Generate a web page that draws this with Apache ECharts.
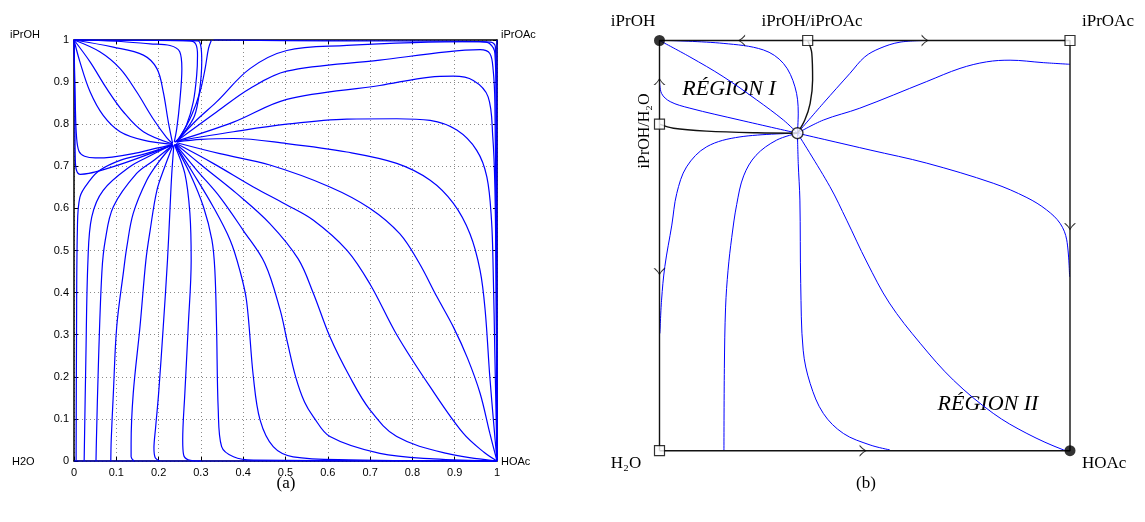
<!DOCTYPE html>
<html><head><meta charset="utf-8">
<script src="https://cdn.jsdelivr.net/npm/echarts@6/dist/echarts.min.js"></script>
<style>html,body{margin:0;padding:0;background:#fff}#c{width:1145px;height:522px}</style>
</head><body><div id="c"></div>
<script>
// ---------- Panel (a): residue curves (x = HOAc, y = iPrOH) ----------
const axisMin = 0, axisMax = 1, axisStep = 0.1;
const cornerLabelsA = ['iPrOH', 'iPrOAc', 'H2O', 'HOAc'];

// Region I curves: from iPrOH corner to the saddle
const L1 = [[0,1],[0.002,0.85],[0.003,0.72],[0.006,0.69],[0.015,0.681],[0.035,0.683],[0.07,0.692],[0.12,0.708],[0.18,0.73],[0.233,0.751]];
const L2 = [[0,1],[0.003,0.85],[0.006,0.77],[0.012,0.735],[0.025,0.724],[0.05,0.72],[0.09,0.722],[0.14,0.73],[0.19,0.742],[0.233,0.751]];
const L3 = [[0,1],[0.014,0.948],[0.038,0.877],[0.069,0.821],[0.109,0.782],[0.164,0.762],[0.233,0.752]];
const L4 = [[0,1],[0.038,0.948],[0.077,0.885],[0.117,0.829],[0.164,0.782],[0.233,0.753]];
const L5 = [[0,1],[0.061,0.972],[0.109,0.932],[0.148,0.877],[0.187,0.813],[0.219,0.768],[0.233,0.754]];
const L6 = [[0,1],[0.093,0.983],[0.164,0.964],[0.196,0.932],[0.211,0.877],[0.223,0.805],[0.233,0.755]];
const L7 = [[0,1],[0.1,0.997],[0.18,0.991],[0.227,0.987],[0.25,0.972],[0.255,0.932],[0.25,0.853],[0.243,0.79],[0.237,0.758]];
const L8 = [[0,1],[0.15,0.999],[0.274,0.998],[0.288,0.99],[0.292,0.964],[0.29,0.916],[0.282,0.853],[0.266,0.798],[0.247,0.765],[0.238,0.757]];
const L9 = [[0,1],[0.2,0.999],[0.293,0.998],[0.3,0.985],[0.302,0.95],[0.297,0.88],[0.285,0.82],[0.26,0.78],[0.24,0.758]];
const D1 = [[0.325,1],[0.318,0.98],[0.31,0.932],[0.298,0.877],[0.278,0.821],[0.25,0.768],[0.241,0.758]];

// Upper-right curves: from the saddle to HOAc along the right edge
const R1 = [[0.33,1],[0.6,0.998],[0.9,0.997],[0.985,0.995],[0.996,0.985],[0.998,0.9],[0.999,0.3],[1,0]];
const R2 = [[0.243,0.76],[0.29,0.81],[0.337,0.853],[0.416,0.932],[0.503,0.975],[0.645,0.987],[0.802,0.994],[0.96,0.996],[0.983,0.991],[0.995,0.968],[0.998,0.85],[0.999,0.3],[1,0]];
const R3 = [[0.243,0.76],[0.337,0.829],[0.416,0.885],[0.503,0.926],[0.723,0.952],[0.881,0.972],[0.96,0.977],[0.983,0.968],[0.991,0.928],[0.995,0.85],[0.998,0.5],[1,0]];
const R4 = [[0.243,0.76],[0.377,0.805],[0.503,0.859],[0.723,0.892],[0.842,0.912],[0.897,0.914],[0.944,0.904],[0.979,0.865],[0.99,0.77],[0.995,0.651],[0.998,0.4],[1,0]];
const R5 = [[0.243,0.76],[0.377,0.782],[0.503,0.8],[0.645,0.812],[0.763,0.813],[0.842,0.809],[0.905,0.786],[0.952,0.738],[0.976,0.675],[0.987,0.572],[0.991,0.453],[0.995,0.25],[1,0]];
const R6 = [[0.243,0.758],[0.3,0.764],[0.377,0.766],[0.503,0.754],[0.645,0.734],[0.763,0.707],[0.842,0.667],[0.897,0.612],[0.936,0.54],[0.96,0.453],[0.972,0.358],[0.983,0.2],[0.993,0.08],[1,0]];
const R7 = [[0.243,0.756],[0.345,0.73],[0.463,0.703],[0.605,0.651],[0.7,0.6],[0.77,0.54],[0.815,0.472],[0.858,0.39],[0.897,0.318],[0.93,0.245],[0.96,0.161],[0.983,0.066],[1,0]];
const R8 = [[0.242,0.754],[0.329,0.707],[0.424,0.651],[0.5,0.61],[0.566,0.572],[0.645,0.501],[0.7,0.42],[0.763,0.3],[0.842,0.176],[0.92,0.066],[0.97,0.02],[1,0]];
const R9 = [[0.241,0.753],[0.306,0.699],[0.385,0.635],[0.463,0.564],[0.53,0.48],[0.566,0.398],[0.605,0.295],[0.652,0.2],[0.7,0.121],[0.763,0.058],[0.881,0.018],[1,0]];

// Lower curves: from the saddle down to the H2O–HOAc edge
const Cj = [[0.24,0.752],[0.29,0.691],[0.345,0.627],[0.4,0.548],[0.451,0.47],[0.487,0.36],[0.505,0.28],[0.524,0.2],[0.545,0.14],[0.566,0.105],[0.605,0.058],[0.723,0.018],[0.85,0.005],[1,0]];
const Ci = [[0.239,0.752],[0.282,0.683],[0.329,0.604],[0.369,0.525],[0.392,0.453],[0.408,0.38],[0.424,0.2],[0.44,0.097],[0.471,0.034],[0.518,0.01],[0.65,0.003],[1,0]];
const Ch = [[0.238,0.752],[0.274,0.683],[0.306,0.604],[0.326,0.525],[0.333,0.453],[0.337,0.319],[0.341,0.121],[0.349,0.034],[0.377,0.01],[0.424,0.002],[1,0]];
const Cg = [[0.237,0.752],[0.262,0.683],[0.274,0.588],[0.277,0.477],[0.27,0.319],[0.262,0.16],[0.257,0.05],[0.259,0.015],[0.27,0.003],[0.3,0]];
const Cf = [[0.236,0.75],[0.231,0.68],[0.227,0.6],[0.221,0.477],[0.211,0.319],[0.2,0.16],[0.193,0.08],[0.189,0.03],[0.192,0.008],[0.203,0]];
const Ce = [[0.234,0.75],[0.215,0.7],[0.196,0.643],[0.18,0.548],[0.17,0.477],[0.156,0.319],[0.14,0.16],[0.135,0.04],[0.135,0.01],[0.142,0]];
const Cd = [[0.233,0.75],[0.2,0.71],[0.172,0.667],[0.14,0.588],[0.125,0.509],[0.117,0.45],[0.101,0.319],[0.093,0.16],[0.088,0.05],[0.087,0]];
const Cc = [[0.233,0.75],[0.19,0.715],[0.148,0.683],[0.093,0.604],[0.074,0.525],[0.066,0.45],[0.058,0.24],[0.053,0.05],[0.052,0]];
const Cb = [[0.233,0.751],[0.18,0.725],[0.132,0.699],[0.069,0.643],[0.042,0.58],[0.033,0.477],[0.028,0.24],[0.024,0]];
const Ca = [[0.233,0.751],[0.17,0.73],[0.109,0.714],[0.06,0.69],[0.038,0.667],[0.014,0.627],[0.008,0.55],[0.006,0.3],[0.005,0]];
const edgeBottom = [[0,0],[1,0]];
const edgeRight = [[1,1],[1,0]];

const curvesA = [L1,L2,L3,L4,L5,L6,L7,L8,L9,D1,R1,R2,R3,R4,R5,R6,R7,R8,R9,Cj,Ci,Ch,Cg,Cf,Ce,Cd,Cc,Cb,Ca,edgeBottom,edgeRight];

// ---------- Panel (b): schematic ----------
const squareB = [[0,0],[1,0],[1,1],[0,1],[0,0]];
const stableNodesB = [[0,1],[1,0]];               // iPrOH, HOAc
const squareNodesB = [[0,0],[1,1],[0.361,1],[0,0.796]]; // H2O, iPrOAc, iPrOH/iPrOAc, iPrOH/H2O
const saddleB = [[0.336,0.774]];
const sepTopB = [[0.361,1],[0.371,0.969],[0.373,0.904],[0.367,0.847],[0.354,0.806],[0.336,0.774]];
const sepLeftB = [[0,0.796],[0.034,0.786],[0.115,0.779],[0.237,0.775],[0.336,0.774]];
const B1 = [[0.02,1],[0.155,0.993],[0.253,0.977],[0.302,0.944],[0.33,0.887],[0.338,0.823],[0.336,0.774]];
const B2 = [[0,1],[0.074,0.96],[0.155,0.912],[0.237,0.855],[0.302,0.806],[0.336,0.774]];
const B3 = [[0,0.904],[0.005,0.871],[0.026,0.851],[0.074,0.835],[0.196,0.806],[0.336,0.774]];
const B4 = [[0.336,0.774],[0.196,0.765],[0.115,0.741],[0.066,0.692],[0.042,0.627],[0.03,0.55],[0.013,0.449],[0.005,0.367],[0.001,0.286]];
const B5 = [[0.336,0.774],[0.285,0.757],[0.235,0.72],[0.205,0.67],[0.188,0.6],[0.176,0.52],[0.167,0.44],[0.161,0.35],[0.158,0.2],[0.157,0]];
const B6 = [[0.336,0.774],[0.338,0.7],[0.342,0.611],[0.344,0.408],[0.35,0.245],[0.367,0.164],[0.399,0.091],[0.448,0.042],[0.513,0.014],[0.561,0.002]];
const B7 = [[0.336,0.774],[0.415,0.644],[0.456,0.562],[0.505,0.46],[0.56,0.36],[0.635,0.262],[0.716,0.172],[0.813,0.091],[0.895,0.042],[0.984,0.002],[1,0]];
const B8 = [[0.336,0.774],[0.513,0.733],[0.651,0.701],[0.813,0.652],[0.895,0.617],[0.943,0.587],[0.976,0.554],[0.992,0.514],[0.999,0.424]];
const B9 = [[0.336,0.774],[0.399,0.806],[0.488,0.835],[0.651,0.9],[0.732,0.932],[0.797,0.948],[0.854,0.952],[0.935,0.946],[1,0.942]];
const B10 = [[0.336,0.774],[0.399,0.847],[0.464,0.92],[0.5,0.96],[0.537,0.981],[0.586,0.996],[0.651,1]];
const curvesB = [B1,B2,B3,B4,B5,B6,B7,B8,B9,B10];
// arrows: [x, y, direction in degrees]
const arrowsB = [[0.2,1,180],[0.647,1,0],[0,0.9,90],[0,0.436,-90],[1,0.546,-90],[0.496,0,0]];

const chevron = 'path://M0,0 Q3.5,3.6 7,5 Q3.5,6.4 0,10 L0,8.6 Q2.8,6 5.4,5 Q2.8,4 0,1.4 Z';

const chart = echarts.init(document.getElementById('c'), null, {renderer: 'canvas'});
const fmt = v => { const r = Math.round(v * 10) / 10; return (r === 0 || r === 1) ? String(r) : r.toFixed(1); };
const lab = {fontFamily: 'Liberation Sans, Arial, sans-serif', fontSize: 11, color: '#000'};

const series = [];
curvesA.forEach(c => series.push({type: 'line', xAxisIndex: 0, yAxisIndex: 0, data: c, smooth: 0.35, symbol: 'none', clip: false,
  lineStyle: {color: '#0000ff', width: 1.2}, z: 2, silent: true, animation: false}));
curvesB.forEach(c => series.push({type: 'line', xAxisIndex: 2, yAxisIndex: 2, data: c, smooth: 0.35, symbol: 'none', clip: false,
  lineStyle: {color: '#0000ff', width: 1}, z: 2, silent: true, animation: false}));
[squareB, sepTopB, sepLeftB].forEach((c, i) => series.push({type: 'line', xAxisIndex: 2, yAxisIndex: 2, data: c, smooth: i ? 0.35 : false,
  symbol: 'none', clip: false, lineStyle: {color: '#111', width: 1.4}, z: 3, silent: true, animation: false}));
series.push({type: 'scatter', xAxisIndex: 2, yAxisIndex: 2, data: arrowsB.map(a => ({value: [a[0], a[1]], symbolRotate: a[2]})),
  symbol: chevron, symbolSize: [7, 12], clip: false, itemStyle: {color: '#000'}, z: 4, silent: true, animation: false});
series.push({type: 'scatter', xAxisIndex: 2, yAxisIndex: 2, data: stableNodesB, symbol: 'circle', symbolSize: 11, clip: false,
  itemStyle: {color: '#000'}, z: 5, silent: true, animation: false});
series.push({type: 'scatter', xAxisIndex: 2, yAxisIndex: 2, data: squareNodesB, symbol: 'rect', symbolSize: 10, clip: false,
  itemStyle: {color: '#fff', borderColor: '#000', borderWidth: 1.2}, z: 5, silent: true, animation: false});
series.push({type: 'scatter', xAxisIndex: 2, yAxisIndex: 2, data: saddleB, symbol: 'circle', symbolSize: 11, clip: false,
  itemStyle: {color: '#fff', borderColor: '#000', borderWidth: 1.4}, z: 5, silent: true, animation: false});

const axisCommon = {type: 'value', min: axisMin, max: axisMax, interval: axisStep, gridIndex: 0,
  axisLine: {show: true, onZero: false, lineStyle: {color: '#000', width: 1.5}},
  axisTick: {show: true, inside: true, length: 4, lineStyle: {color: '#000', width: 1}}};

const serif = 'Liberation Serif, "DejaVu Serif", serif';
const txt = (text, x, y, font, align, extra) => Object.assign({type: 'text', x: x, y: y, silent: true,
  style: {text: text, font: font, fill: '#000', textAlign: align || 'center', textVerticalAlign: 'middle'}}, extra || {});

chart.setOption({
  animation: false,
  backgroundColor: '#fff',
  grid: [
    {left: 74, top: 40, width: 423, height: 421},
    {left: 659.5, top: 40.5, width: 410.5, height: 410.2}
  ],
  xAxis: [
    Object.assign({}, axisCommon, {position: 'bottom', axisLabel: Object.assign({margin: 6, formatter: fmt}, lab),
      splitLine: {show: true, lineStyle: {color: '#8a8a8a', type: [1, 3], width: 1}}}),
    Object.assign({}, axisCommon, {position: 'top', axisLabel: {show: false}, splitLine: {show: false}}),
    {type: 'value', gridIndex: 1, min: 0, max: 1, show: false}
  ],
  yAxis: [
    Object.assign({}, axisCommon, {position: 'left', axisLabel: Object.assign({margin: 5, formatter: fmt}, lab),
      splitLine: {show: true, lineStyle: {color: '#8a8a8a', type: [1, 3], width: 1}}}),
    Object.assign({}, axisCommon, {position: 'right', axisLabel: {show: false}, splitLine: {show: false}}),
    {type: 'value', gridIndex: 1, min: 0, max: 1, show: false}
  ],
  series: series,
  graphic: [
    txt(cornerLabelsA[0], 10, 35, '11px Liberation Sans, Arial, sans-serif', 'left'),
    txt(cornerLabelsA[1], 501, 35, '11px Liberation Sans, Arial, sans-serif', 'left'),
    txt(cornerLabelsA[2], 12, 462, '11px Liberation Sans, Arial, sans-serif', 'left'),
    txt(cornerLabelsA[3], 501, 462, '11px Liberation Sans, Arial, sans-serif', 'left'),
    txt('(a)', 286, 484, '17px ' + serif),
    txt('(b)', 866, 484, '17px ' + serif),
    txt('iPrOH', 633, 22, '17px ' + serif),
    txt('iPrOH/iPrOAc', 812, 22, '17px ' + serif),
    txt('iPrOAc', 1082, 22, '17px ' + serif, 'left'),
    txt('H₂O', 626, 464, '17px ' + serif),
    txt('HOAc', 1082, 464, '17px ' + serif, 'left'),
    txt('iPrOH/H₂O', 645, 131, '16px ' + serif, 'center', {rotation: Math.PI / 2}),
    txt('RÉGION I', 729, 89, 'italic 22px ' + serif),
    txt('RÉGION II', 988, 404, 'italic 22px ' + serif)
  ]
});
</script></body></html>
